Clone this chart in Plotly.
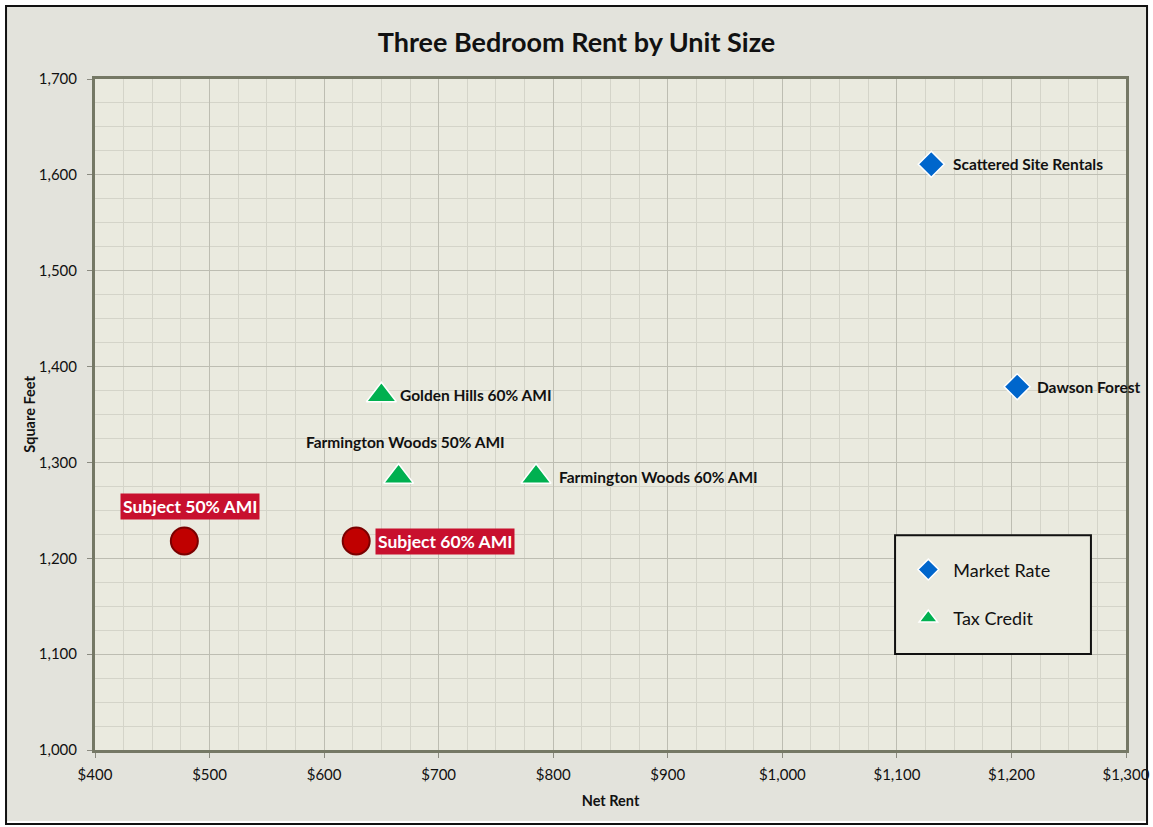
import plotly.graph_objects as go

# ---- data ----
market_names = ["Scattered Site Rentals", "Dawson Forest"]
market_rent = [1130, 1205]
market_sqft = [1611, 1379]

tax_names = ["Golden Hills 60% AMI", "Farmington Woods 50% AMI", "Farmington Woods 60% AMI"]
tax_rent = [650, 665, 785]
tax_sqft = [1370, 1285, 1285]

subject_names = ["Subject 50% AMI", "Subject 60% AMI"]
subject_rent = [478, 628]
subject_sqft = [1218, 1218]

x_ticks = [400, 500, 600, 700, 800, 900, 1000, 1100, 1200, 1300]
x_tick_labels = ["$400", "$500", "$600", "$700", "$800", "$900", "$1,000", "$1,100", "$1,200", "$1,300"]
y_ticks = [1000, 1100, 1200, 1300, 1400, 1500, 1600, 1700]
y_tick_labels = ["1,000", "1,100", "1,200", "1,300", "1,400", "1,500", "1,600", "1,700"]

FONT = "Lato, Open Sans, sans-serif"

fig = go.Figure()

fig.add_trace(go.Scatter(
    x=market_rent, y=market_sqft, mode="markers", name="Market Rate",
    marker=dict(symbol="diamond", size=20, color="#0066CC", line=dict(color="white", width=1.5)),
    legendgroup="a",
))
fig.add_trace(go.Scatter(
    x=tax_rent, y=tax_sqft, mode="markers", name="Tax Credit",
    marker=dict(symbol="triangle-up", size=26, color="#00B050", line=dict(color="white", width=1.5)),
    legendgroup="b",
))
fig.add_trace(go.Scatter(
    x=subject_rent, y=subject_sqft, mode="markers", name="Subject", showlegend=False,
    marker=dict(symbol="circle", size=27, color="#C00000", line=dict(color="#7A0000", width=2)),
))

# labels
label_pos = {
    "Scattered Site Rentals": dict(xanchor="left", yanchor="middle", xshift=20, yshift=0),
    "Dawson Forest": dict(xanchor="left", yanchor="middle", xshift=18, yshift=0),
    "Golden Hills 60% AMI": dict(xanchor="left", yanchor="middle", xshift=17, yshift=0),
    "Farmington Woods 50% AMI": dict(xanchor="center", yanchor="middle", xshift=7, yshift=35),
    "Farmington Woods 60% AMI": dict(xanchor="left", yanchor="middle", xshift=21, yshift=0),
}
for n, x, y in zip(market_names + tax_names, market_rent + tax_rent, market_sqft + tax_sqft):
    p = label_pos[n]
    fig.add_annotation(x=x, y=y, text=n, showarrow=False,
                       font=dict(family=FONT, size=15.5, color="#111111", weight="bold"), **p)

sub_pos = {
    "Subject 50% AMI": dict(xanchor="center", yanchor="middle", xshift=6, yshift=35),
    "Subject 60% AMI": dict(xanchor="left", yanchor="middle", xshift=19, yshift=0),
}
for n, x, y in zip(subject_names, subject_rent, subject_sqft):
    fig.add_annotation(x=x, y=y, text=n, showarrow=False, bgcolor="#C8102E", borderpad=2,
                       font=dict(family=FONT, size=17.5, color="white", weight="bold"), **sub_pos[n])

# white strip outside the outer border
fig.add_shape(type="rect", xref="paper", yref="paper", x0=-0.0921, x1=1.0262, y0=-0.1148, y1=1.1177,
              line=dict(color="white", width=12), fillcolor="rgba(0,0,0,0)", layer="below")
# outer border
fig.add_shape(type="rect", xref="paper", yref="paper", x0=-0.0863, x1=1.0204, y0=-0.1103, y1=1.1088,
              line=dict(color="#111111", width=2), fillcolor="rgba(0,0,0,0)", layer="below")
# legend box
fig.add_shape(type="rect", xref="paper", yref="paper", x0=0.776, x1=0.966, y0=0.143, y1=0.320,
              line=dict(color="#111111", width=2), fillcolor="#EAEADF", layer="above")

axis_common = dict(
    showline=True, linecolor="#757865", linewidth=3, mirror=True,
    gridcolor="#BDBDB2", gridwidth=1, zeroline=False, automargin=False,
    ticks="outside", ticklen=5, tickcolor="#8A8A80",
    tickfont=dict(family=FONT, size=15, color="#111111"),
    minor=dict(dtick=25, showgrid=True, gridcolor="#D4D4C9", gridwidth=1),
)

fig.update_layout(
    width=1153, height=827,
    margin=dict(l=95, r=27, t=79, b=77),
    paper_bgcolor="#E3E3DC", plot_bgcolor="#EAEADF",
    title=dict(text="Three Bedroom Rent by Unit Size", x=0.5, xanchor="center", y=0.949, yanchor="middle",
               automargin=False,
               font=dict(family=FONT, size=27, color="#111111", weight="bold")),
    xaxis=dict(range=[400, 1300], tickvals=x_ticks, ticktext=x_tick_labels, ticklabelstandoff=4,
               title=dict(text="Net Rent", font=dict(family=FONT, size=14.5, color="#111111", weight="bold"), standoff=14),
               **axis_common),
    yaxis=dict(range=[1000, 1700], tickvals=y_ticks, ticktext=y_tick_labels, ticklabelstandoff=7,
               title=dict(text="Square Feet", font=dict(family=FONT, size=14.5, color="#111111", weight="bold"), standoff=0),
               **axis_common),
    legend=dict(x=0.784, y=0.296, xanchor="left", yanchor="top", bgcolor="rgba(0,0,0,0)",
                borderwidth=0, font=dict(family=FONT, size=18, color="#111111"),
                tracegroupgap=22, itemwidth=40, entrywidth=150),
    showlegend=True,
)

fig.write_html("out.html", post_script="document.body.style.margin='0';",
               config={"displayModeBar": False})
